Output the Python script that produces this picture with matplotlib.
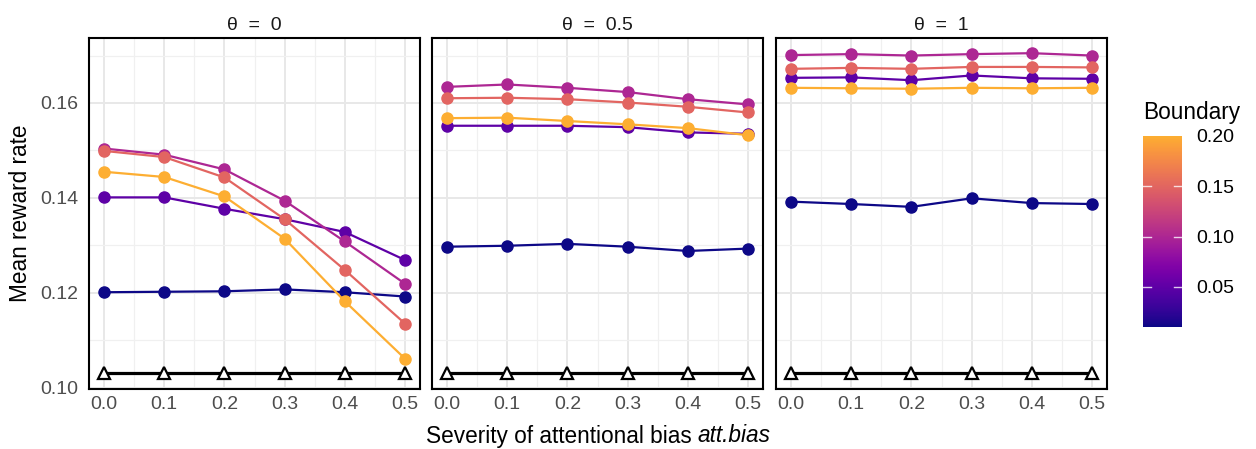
import numpy as np
import matplotlib
matplotlib.use("Agg")
import matplotlib.pyplot as plt
from matplotlib.colors import ListedColormap, Normalize
from matplotlib.ticker import MultipleLocator

plt.rcParams['font.family'] = ['Liberation Sans', 'DejaVu Sans']

# data
bias = [0.0, 0.1, 0.2, 0.3, 0.4, 0.5]
boundaries = [0.01, 0.05, 0.10, 0.15, 0.20]
panel_titles = ["θ  =  0", "θ  =  0.5", "θ  =  1"]

theta0 = [
    [0.1201, 0.1202, 0.1203, 0.1207, 0.1201, 0.1192],
    [0.1401, 0.1401, 0.1377, 0.1355, 0.1328, 0.1269],
    [0.1504, 0.1491, 0.1460, 0.1394, 0.1308, 0.1219],
    [0.1499, 0.1486, 0.1443, 0.1355, 0.1248, 0.1135],
    [0.1455, 0.1444, 0.1403, 0.1314, 0.1182, 0.1061],
]
theta05 = [
    [0.1297, 0.1299, 0.1303, 0.1297, 0.1288, 0.1293],
    [0.1552, 0.1552, 0.1552, 0.1549, 0.1538, 0.1535],
    [0.1634, 0.1639, 0.1632, 0.1623, 0.1608, 0.1597],
    [0.1610, 0.1611, 0.1608, 0.1601, 0.1592, 0.1580],
    [0.1568, 0.1569, 0.1562, 0.1555, 0.1547, 0.1532],
]
theta1 = [
    [0.1392, 0.1387, 0.1381, 0.1399, 0.1389, 0.1387],
    [0.1653, 0.1654, 0.1648, 0.1658, 0.1652, 0.1651],
    [0.1701, 0.1703, 0.1700, 0.1703, 0.1705, 0.1700],
    [0.1672, 0.1674, 0.1672, 0.1676, 0.1676, 0.1675],
    [0.1632, 0.1631, 0.1630, 0.1632, 0.1631, 0.1632],
]
baseline = [0.1031, 0.1031, 0.1031, 0.1031, 0.1031, 0.1031]

panels = [theta0, theta05, theta1]

cmap = ListedColormap(plt.cm.plasma(np.linspace(0, 0.82, 256)))
norm = Normalize(vmin=0.01, vmax=0.20)

SMALL = 14
BIG = 16.25

fig = plt.figure(figsize=(12.56, 4.49), dpi=100)

lefts = [89, 432, 776]
width = 331
bottom = 60 / 449
height = 351 / 449

for i, data in enumerate(panels):
    ax = fig.add_axes([lefts[i] / 1256, bottom, width / 1256, height])
    ax.set_xlim(-0.025, 0.525)
    ax.set_ylim(0.0997, 0.1737)
    ax.xaxis.set_major_locator(MultipleLocator(0.1))
    ax.xaxis.set_minor_locator(MultipleLocator(0.05))
    ax.yaxis.set_major_locator(MultipleLocator(0.02))
    ax.yaxis.set_minor_locator(MultipleLocator(0.01))
    ax.grid(which='major', color='#E8E8E8', lw=1.4)
    ax.grid(which='minor', color='#F0F0F0', lw=0.9)
    ax.set_axisbelow(True)
    for s in ax.spines.values():
        s.set_color('black')
        s.set_linewidth(1.5)
    ax.tick_params(which='both', length=0, labelsize=SMALL, labelcolor='#4D4D4D')
    ax.tick_params(axis='y', pad=8)
    ax.tick_params(axis='x', pad=5)
    ax.set_xticks(bias)
    ax.set_xticklabels([f"{b:.1f}" for b in bias])
    if i == 0:
        ax.set_yticks([0.10, 0.12, 0.14, 0.16])
        ax.set_yticklabels(["0.10", "0.12", "0.14", "0.16"])
    else:
        ax.set_yticklabels([])

    ax.plot(bias, baseline, color='black', lw=2.3, zorder=3)
    ax.plot(bias, baseline, ls='none', marker='^', ms=8, mfc='white',
            mec='black', mew=1.6, zorder=4)

    for b, vals in zip(boundaries, data):
        c = cmap(norm(b))
        ax.plot(bias, vals, color=c, lw=1.6, zorder=5)
        ax.plot(bias, vals, ls='none', marker='o', ms=8, color=c, zorder=5)

    ax.set_title(panel_titles[i], fontsize=SMALL, pad=6, color='#1A1A1A')

fig.text(21 / 1256, (bottom + height / 2), "Mean reward rate", rotation=90,
         ha='center', va='center', fontsize=BIG)

# x label: plain part + italic part, centred together
xc = (89 + 1107) / 2 / 1256
yl = 13 / 449
t1 = fig.text(0, yl, "Severity of attentional bias ", ha='left', va='center',
              fontsize=BIG)
t2 = fig.text(0, yl, "att.bias", ha='left', va='center', fontsize=BIG,
              fontstyle='italic')
r = fig.canvas.get_renderer()
w1 = t1.get_window_extent(r).width / fig.bbox.width
w2 = t2.get_window_extent(r).width / fig.bbox.width
x0 = xc - (w1 + w2) / 2
t1.set_x(x0)
t2.set_x(x0 + w1)

# colorbar legend
cax = fig.add_axes([1143 / 1256, (449 - 327) / 449, 39 / 1256, 191 / 449])
grad = np.linspace(0.01, 0.20, 256).reshape(-1, 1)
cax.imshow(grad, aspect='auto', cmap=cmap, norm=norm, origin='lower',
           extent=[0, 1, 0.01, 0.20])
cax.set_xlim(0, 1)
cax.set_ylim(0.01, 0.20)
for s in cax.spines.values():
    s.set_visible(False)
cax.set_xticks([])
cax.yaxis.tick_right()
cax.set_yticks([0.05, 0.10, 0.15, 0.20])
cax.set_yticklabels(["0.05", "0.10", "0.15", "0.20"])
cax.tick_params(axis='y', length=0, labelsize=SMALL, labelcolor='black', pad=10)
for t in [0.05, 0.10, 0.15]:
    cax.plot([0, 0.2], [t, t], color='white', lw=1, alpha=0.8)
    cax.plot([0.8, 1], [t, t], color='white', lw=1, alpha=0.8)
fig.text(1143 / 1256, (449 - 113) / 449, "Boundary", ha='left', va='center',
         fontsize=BIG)

fig.savefig("out.png", dpi=100)
